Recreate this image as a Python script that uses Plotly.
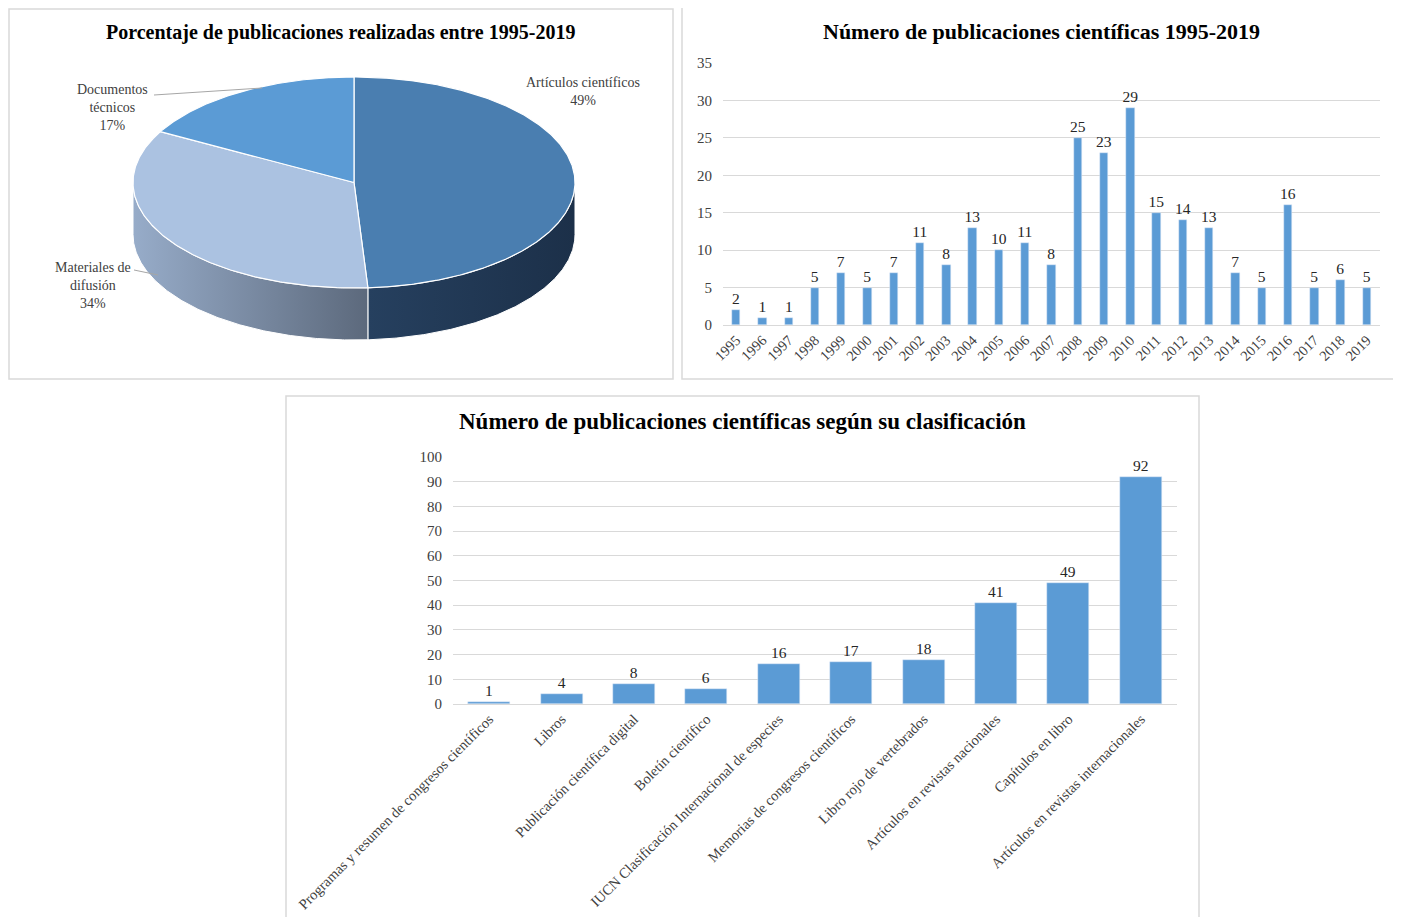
import numpy as np
import plotly.graph_objects as go

# the page body has an 8px margin, so the figure is shifted by OFF
OFF = 8
W, H = 1401 - OFF, 917 - OFF
FONT = "Liberation Serif"
BAR_COLOR = "#5b9bd5"
GRID_COLOR = "#d9d9d9"

# --- data ---
pie_labels = ["Artículos científicos", "Materiales de difusión", "Documentos técnicos"]
pie_pct = [49, 34, 17]

years = [str(y) for y in range(1995, 2020)]
year_counts = [2, 1, 1, 5, 7, 5, 7, 11, 8, 13, 10, 11, 8, 25, 23, 29, 15, 14, 13, 7, 5, 16, 5, 6, 5]

categories = [
    "Programas y resumen de congresos científicos",
    "Libros",
    "Publicación científica digital",
    "Boletín científico",
    "IUCN Clasificación Internacional de especies",
    "Memorias de congresos científicos",
    "Libro rojo de vertebrados",
    "Artículos en revistas nacionales",
    "Capítulos en libro",
    "Artículos en revistas internacionales",
]
category_counts = [1, 4, 8, 6, 16, 17, 18, 41, 49, 92]

# --- 3D pie geometry (pixel space) ---
CX, CY, RA, RB, DEPTH = 354, 182.5, 221, 105.5, 52
top_colors = ["#4a7eb0", "#abc2e1", "#5b9bd5"]
side_scales = [
    [[0, "#26405f"], [1, "#1c3049"]],
    [[0, "#97acc9"], [1, "#5c697c"]],
    [[0, "#3f6f9f"], [1, "#2d5580"]],
]


def arc(t0, t1, dy=0.0):
    t = np.radians(np.linspace(t0, t1, max(int(abs(t1 - t0)) * 2, 2)))
    return CX + RA * np.sin(t), CY - RB * np.cos(t) + dy


def px(x):
    return (x - OFF) / W


def py(y):
    return 1 - (y - OFF) / H


fig = go.Figure()

bounds = np.concatenate([[0], np.cumsum(pie_pct)]) / sum(pie_pct) * 360

# sides first (only front half, 90..270 deg clockwise from top)
for i in range(len(pie_pct)):
    a0, a1 = max(bounds[i], 90), min(bounds[i + 1], 270)
    if a1 <= a0:
        continue
    xt, yt = arc(a0, a1)
    xb, yb = arc(a1, a0, DEPTH)
    fig.add_trace(go.Scatter(
        x=np.concatenate([xt, xb, xt[:1]]), y=np.concatenate([yt, yb, yt[:1]]),
        mode="lines", fill="toself", line=dict(color="white", width=1),
        fillgradient=dict(type="horizontal", colorscale=side_scales[i]),
        xaxis="x3", yaxis="y3", hoverinfo="skip", showlegend=False,
    ))

for i, name in enumerate(pie_labels):
    xa, ya = arc(bounds[i], bounds[i + 1])
    fig.add_trace(go.Scatter(
        x=np.concatenate([[CX], xa, [CX]]), y=np.concatenate([[CY], ya, [CY]]),
        mode="lines", fill="toself", fillcolor=top_colors[i],
        line=dict(color="white", width=1.2),
        xaxis="x3", yaxis="y3", name=name, showlegend=False,
        hovertemplate=f"{name}: {pie_pct[i]}%<extra></extra>",
    ))

label_font = dict(family=FONT, size=15.5, color="#262626")

# --- bar chart by year ---
fig.add_trace(go.Bar(
    x=years, y=year_counts, marker_color=BAR_COLOR, width=0.32,
    text=year_counts, textposition="outside", cliponaxis=False, constraintext="none",
    textfont=label_font, xaxis="x", yaxis="y", showlegend=False,
))

# --- bar chart by category ---
fig.add_trace(go.Bar(
    x=categories, y=category_counts, marker_color=BAR_COLOR, width=0.58,
    text=category_counts, textposition="outside", cliponaxis=False, constraintext="none",
    textfont=label_font, xaxis="x2", yaxis="y2", showlegend=False,
))

ytick_font = dict(family=FONT, size=15, color="#404040")
xtick_font = dict(family=FONT, size=14.5, color="#404040")

fig.update_layout(
    width=W, height=H,
    margin=dict(l=0, r=0, t=0, b=0, autoexpand=False),
    paper_bgcolor="white", plot_bgcolor="rgba(0,0,0,0)",
    font=dict(family=FONT, color="#262626"),
    bargap=0,
    xaxis=dict(domain=[px(723), px(1380)], type="category", tickangle=-45,
               tickfont=xtick_font, showgrid=False, showline=True, automargin=False,
               linecolor=GRID_COLOR, ticks="", anchor="y"),
    yaxis=dict(domain=[py(325), py(63)], range=[0, 35], dtick=5, automargin=False,
               tickfont=ytick_font, gridcolor=GRID_COLOR, zeroline=False,
               ticks="", anchor="x", ticklabelstandoff=10),
    xaxis2=dict(domain=[px(453), px(1177)], type="category", tickangle=-45,
                tickfont=xtick_font, showgrid=False, showline=True, automargin=False,
                linecolor=GRID_COLOR, ticks="", anchor="y2"),
    yaxis2=dict(domain=[py(704), py(457)], range=[0, 100], dtick=10, automargin=False,
                tickfont=ytick_font, gridcolor=GRID_COLOR, zeroline=False,
                ticks="", anchor="x2", ticklabelstandoff=10),
    xaxis3=dict(domain=[0, 1], range=[OFF, 1401], visible=False, anchor="y3", automargin=False),
    yaxis3=dict(domain=[0, 1], range=[917, OFF], visible=False, anchor="x3", automargin=False),
)

# panel borders
for x0, y0, x1, y1 in [(9, 9, 673, 379), (682, 7, 1398, 379), (286, 396, 1199, 930)]:
    fig.add_shape(type="rect", xref="paper", yref="paper",
                  x0=px(x0), x1=px(x1), y0=py(y0), y1=py(y1),
                  line=dict(color=GRID_COLOR, width=1.5), layer="below")

titles = [
    ("Porcentaje de publicaciones realizadas entre 1995-2019", 340, 33, 20),
    ("Número de publicaciones científicas 1995-2019", 1041, 31, 22),
    ("Número de publicaciones científicas según su clasificación", 742, 422, 23),
]
for text, x, y, size in titles:
    fig.add_annotation(text=f"<b>{text}</b>", xref="paper", yref="paper",
                       x=px(x), y=py(y), xanchor="center", yanchor="middle", showarrow=False,
                       font=dict(family=FONT, size=size, color="#000000"))

# pie labels with leader lines
pie_label_text = ["Artículos científicos", "Materiales de<br>difusión", "Documentos<br>técnicos"]
pie_label_pos = [(583, 91, None), (93, 285, (134, 270, 158, 275)), (112, 108, (154, 95, 262, 88))]
for i, (x, y, leader) in enumerate(pie_label_pos):
    fig.add_annotation(text=f"{pie_label_text[i]}<br>{pie_pct[i]}%", xref="paper", yref="paper",
                       x=px(x), y=py(y), xanchor="center", yanchor="middle", showarrow=False,
                       font=dict(family=FONT, size=14, color="#404040"))
    if leader:
        fig.add_shape(type="line", xref="paper", yref="paper",
                      x0=px(leader[0]), y0=py(leader[1]), x1=px(leader[2]), y1=py(leader[3]),
                      line=dict(color="#a6a6a6", width=1))

fig.write_html("out.html")
